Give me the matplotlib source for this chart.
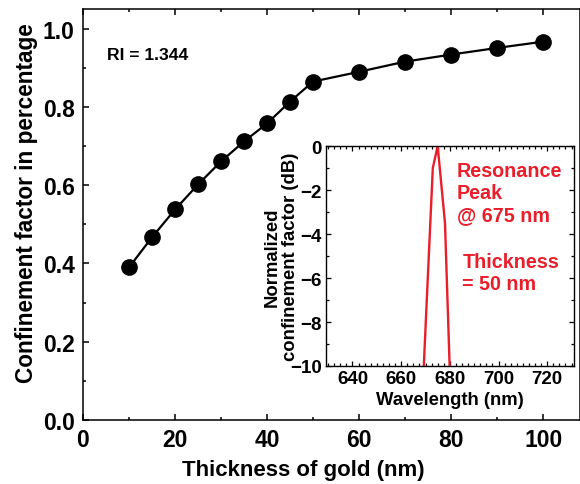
import numpy as np
import matplotlib
matplotlib.use("Agg")
import matplotlib.pyplot as plt
from matplotlib.ticker import MultipleLocator

plt.rcParams["font.family"] = ["Liberation Sans", "DejaVu Sans"]
plt.rcParams["font.weight"] = "bold"

# main curve: confinement factor vs gold thickness
thickness = [10, 15, 20, 25, 30, 35, 40, 45, 50, 60, 70, 80, 90, 100]
confinement = [0.390, 0.467, 0.538, 0.602, 0.661, 0.712, 0.758, 0.814,
               0.865, 0.890, 0.916, 0.934, 0.951, 0.967]

# inset: resonance spectrum at 50 nm
wavelength = [669, 673, 675, 678, 680.5]
norm_db = [-10.7, -1.0, 0.0, -3.5, -12.0]

RED = "#e91e2a"

fig = plt.figure(figsize=(5.8, 4.85), dpi=100)
ax = fig.add_axes([0.1431, 0.132, 0.857, 0.847])
ax.plot(thickness, confinement, color="black", lw=1.6, marker="o", ms=11)
ax.set_xlim(0, 108)
ax.set_ylim(0, 1.05)
ax.xaxis.set_major_locator(MultipleLocator(20))
ax.xaxis.set_minor_locator(MultipleLocator(10))
ax.yaxis.set_major_locator(MultipleLocator(0.2))
ax.yaxis.set_minor_locator(MultipleLocator(0.1))
ax.yaxis.set_major_formatter(plt.FormatStrFormatter("%.1f"))
ax.tick_params(which="both", direction="in", top=True, right=False, width=1.1)
ax.tick_params(which="major", length=4.5, labelsize=16.5, pad=6)
ax.tick_params(which="minor", length=2.5)
for s in ax.spines.values():
    s.set_linewidth(1.1)
ax.set_xlabel("Thickness of gold (nm)", fontsize=16, fontweight="bold")
ax.set_ylabel("Confinement factor in percentage", fontsize=16.3, fontweight="bold")
ax.xaxis.set_label_coords(0.443, -0.095)
ax.yaxis.set_label_coords(-0.091, 0.53)
ax.text(5.2, 0.934, "RI = 1.344", fontsize=12.6, fontweight="bold", va="center")

ins = fig.add_axes([0.5616, 0.2433, 0.428, 0.4536])
ins.plot(wavelength, norm_db, color=RED, lw=1.7)
ins.set_xlim(629, 731)
ins.set_ylim(-10, 0)
ins.xaxis.set_major_locator(MultipleLocator(20))
ins.xaxis.set_minor_locator(MultipleLocator(2.5))
ins.yaxis.set_major_locator(MultipleLocator(2))
ins.yaxis.set_minor_locator(MultipleLocator(1))
ins.tick_params(which="both", direction="in", top=True, right=True, width=0.9)
ins.tick_params(which="major", length=3.5, labelsize=13.5, pad=3)
ins.tick_params(which="minor", length=2)
ins.set_yticks(ins.get_yticks())
ins.set_yticklabels([f"{int(v)}".replace("-", "\u2212") for v in ins.get_yticks()])
ins.set_ylim(-10, 0)
for s in ins.spines.values():
    s.set_linewidth(1.0)
ins.set_xlabel("Wavelength (nm)", fontsize=13.3, fontweight="bold", labelpad=2.5)
ins.set_ylabel("Normalized\nconfinement factor (dB)", fontsize=13.3, fontweight="bold",
               linespacing=1.1)
ins.yaxis.set_label_coords(-0.107, 0.5)
ins.text(0.529, 0.93, "Resonance\nPeak\n@ 675 nm", transform=ins.transAxes, color=RED,
         fontsize=14.2, fontweight="bold", va="top", linespacing=1.2)
ins.text(0.55, 0.52, "Thickness\n= 50 nm", transform=ins.transAxes, color=RED,
         fontsize=14.2, fontweight="bold", va="top", linespacing=1.2)

fig.savefig("out.png", dpi=100)
